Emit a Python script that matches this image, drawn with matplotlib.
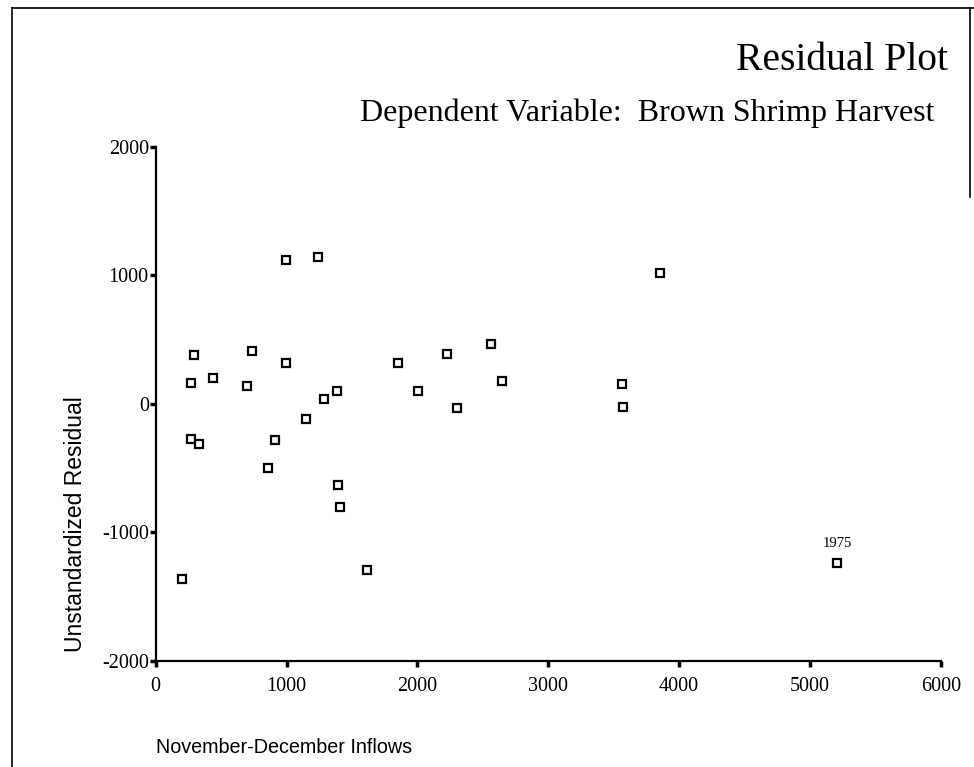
import matplotlib
matplotlib.use("Agg")
import matplotlib.pyplot as plt
from matplotlib.lines import Line2D

# Data
inflows = [203, 268, 293, 270, 331, 440, 698, 736, 861, 910, 994, 998,
           1147, 1239, 1284, 1384, 1396, 1409, 1618, 1852, 2005, 2225,
           2301, 2563, 2647, 3565, 3570, 3853, 5211]
residuals = [-1366, 165, 377, -276, -315, 204, 139, 411, -502, -279, 1119, 315,
             -115, 1142, 40, 103, -629, -803, -1293, 315, 103, 388,
             -35, 463, 177, 152, -22, 1018, -1236]
x_ticks = [0, 1000, 2000, 3000, 4000, 5000, 6000]
y_ticks = [-2000, -1000, 0, 1000, 2000]
annot_label = "1975"
annot_x, annot_y = 5211, -1236

serif = ["Liberation Serif", "DejaVu Serif"]
sans = ["Liberation Sans", "DejaVu Sans"]

fig = plt.figure(figsize=(9.74, 7.67), dpi=100)
ax = fig.add_axes([0.1599, 0.1386, 0.8059, 0.6697])

ax.plot(inflows, residuals, linestyle="none", marker="s", markersize=5.8,
        markerfacecolor="white", markeredgecolor="black", markeredgewidth=1.6)
ax.annotate(annot_label, (annot_x, annot_y), xytext=(0, 9), textcoords="offset points",
            ha="center", va="bottom", fontsize=10.5, family=serif)

ax.set_xlim(0, 6000)
ax.set_ylim(-2000, 2000)
ax.set_xticks(x_ticks)
ax.set_yticks(y_ticks)
ax.set_xticklabels([str(v) for v in x_ticks], family=serif, fontsize=14.5)
ax.set_yticklabels([str(v) for v in y_ticks], family=serif, fontsize=14.5)
ax.tick_params(axis="x", direction="out", length=4, width=2.5, pad=8)
ax.tick_params(axis="y", direction="out", length=4, width=2.5, pad=1)

for s in ["top", "right"]:
    ax.spines[s].set_visible(False)
for s in ["left", "bottom"]:
    ax.spines[s].set_linewidth(1.6)

ax.set_xlabel("November-December Inflows", family=sans, fontsize=14.2)
ax.xaxis.set_label_coords(0.0, -0.15)
ax.xaxis.label.set_ha("left")
ax.set_ylabel("Unstandardized Residual", family=sans, fontsize=16.5)
ax.yaxis.set_label_coords(-0.088, 0.265)

fig.text(948 / 974, 1 - 60 / 767, "Residual Plot", ha="right", va="center",
         family=serif, fontsize=28.5)
fig.text(935 / 974, 1 - 113 / 767, "Dependent Variable:  Brown Shrimp Harvest",
         ha="right", va="center", family=serif, fontsize=23)

# Scanned page frame
fig.add_artist(Line2D([12 / 974, 12 / 974], [0, 1 - 8 / 767], color="black", lw=1.2))
fig.add_artist(Line2D([12 / 974, 1.0], [1 - 8 / 767, 1 - 8 / 767], color="black", lw=1.2))
fig.add_artist(Line2D([970 / 974, 970 / 974], [1 - 8 / 767, 1 - 197 / 767], color="black", lw=1.2))

fig.savefig("out.png", dpi=100, facecolor="white")
